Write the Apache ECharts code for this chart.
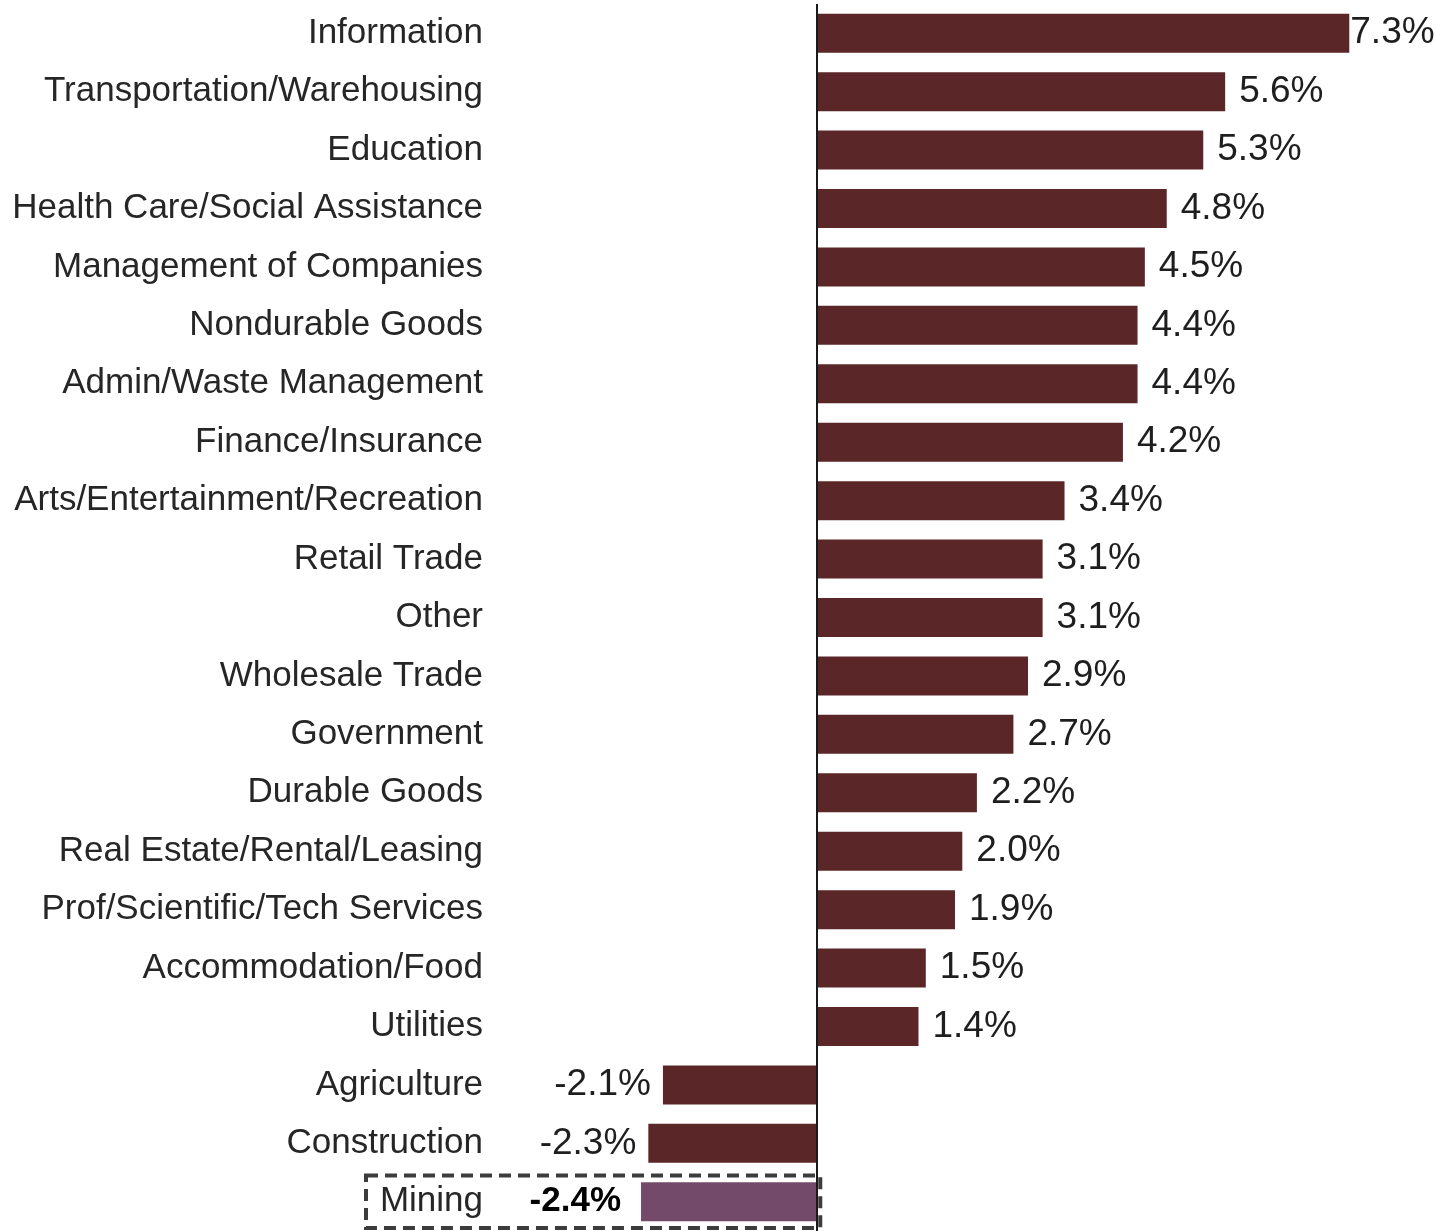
<!DOCTYPE html>
<html>
<head>
<meta charset="utf-8">
<style>
  html, body { margin: 0; padding: 0; background: #ffffff; }
  #chart { width: 1436px; height: 1231px; }
</style>
<script src="https://cdn.jsdelivr.net/npm/echarts@6/dist/echarts.min.js"></script>
</head>
<body>
<div id="chart"></div>
<script>
const categories = [
  "Information", "Transportation/Warehousing", "Education",
  "Health Care/Social Assistance", "Management of Companies", "Nondurable Goods",
  "Admin/Waste Management", "Finance/Insurance", "Arts/Entertainment/Recreation",
  "Retail Trade", "Other", "Wholesale Trade", "Government", "Durable Goods",
  "Real Estate/Rental/Leasing", "Prof/Scientific/Tech Services", "Accommodation/Food",
  "Utilities", "Agriculture", "Construction", "Mining"
];
const values = [7.3, 5.6, 5.3, 4.8, 4.5, 4.4, 4.4, 4.2, 3.4, 3.1, 3.1, 2.9, 2.7, 2.2, 2.0, 1.9, 1.5, 1.4, -2.1, -2.3, -2.4];
const highlighted = "Mining";

const FONT = "'Liberation Sans', Arial, sans-serif";
const BAR = "#5a2628";
const HIGHLIGHT = "#734a69";

const seriesData = values.map((v, i) => {
  const isHi = categories[i] === highlighted;
  const item = {
    value: v,
    itemStyle: { color: isHi ? HIGHLIGHT : BAR },
    label: {
      position: v < 0 ? 'left' : 'right',
      distance: isHi ? 20 : (v < 0 ? 12 : (i === 0 ? 1 : 14))
    }
  };
  if (isHi) {
    item.label.fontWeight = 'bold';
    item.label.color = '#000000';
    item.label.fontSize = 35;
  }
  return item;
});

const chart = echarts.init(document.getElementById('chart'));
const gridLeft = 495;
chart.setOption({
  animation: false,
  backgroundColor: '#ffffff',
  grid: { left: gridLeft, right: 21, top: 4, bottom: -2, containLabel: false },
  xAxis: {
    type: 'value', min: -4.4, max: 8.2,
    show: false,
    splitLine: { show: false }
  },
  yAxis: {
    type: 'category', data: categories, inverse: true,
    axisLine: { show: false }, axisTick: { show: false },
    axisLabel: { fontFamily: FONT, fontSize: 35, color: '#262626', margin: 12, interval: 0 }
  },
  series: [{
    type: 'bar',
    data: seriesData,
    barWidth: 39,
    label: {
      show: true,
      fontFamily: FONT, fontSize: 37, color: '#1e1e1e',
      formatter: p => p.value.toFixed(1) + '%'
    },
    markLine: {
      silent: true, symbol: 'none',
      label: { show: false },
      lineStyle: { color: '#1a1a1a', width: 2, type: 'solid' },
      data: [{ xAxis: 0 }]
    }
  }]
});

// dashed highlight box around the highlighted row, positioned from the axes' scales
const cy = chart.convertToPixel({ yAxisIndex: 0 }, highlighted);
const band = chart.convertToPixel({ yAxisIndex: 0 }, categories[1]) - chart.convertToPixel({ yAxisIndex: 0 }, categories[0]);
const x0 = chart.convertToPixel({ xAxisIndex: 0 }, 0);
chart.setOption({
  graphic: [{
    type: 'rect', z: 100, silent: true,
    shape: { x: gridLeft - 129, y: cy - band / 2 + 3, width: x0 + 4 - (gridLeft - 129), height: band - 6 },
    style: { fill: 'none', stroke: '#3c3c3c', lineWidth: 4, lineDash: [12, 7] }
  }]
});
</script>
</body>
</html>
